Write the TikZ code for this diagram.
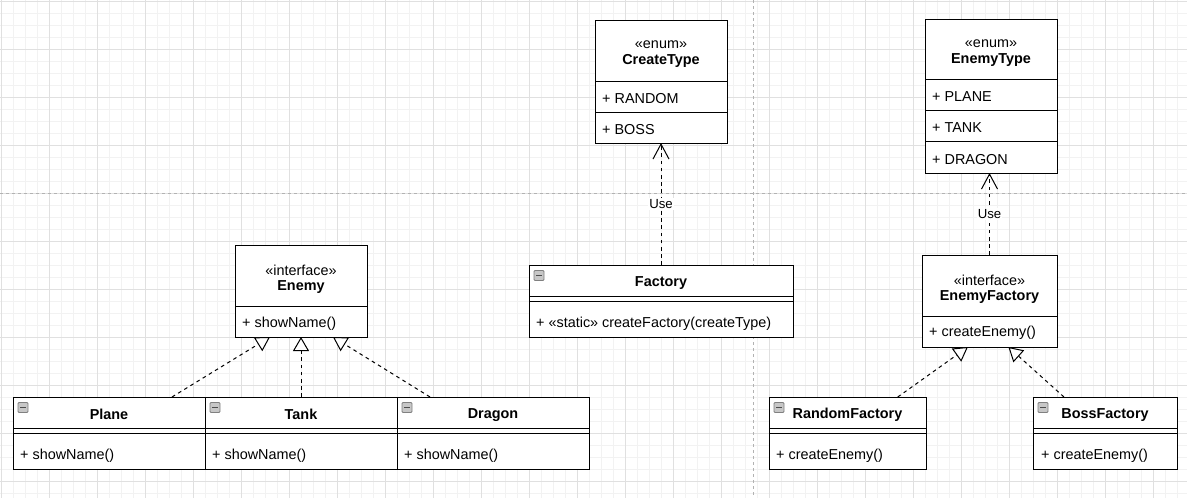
\documentclass[tikz,border=0pt]{standalone}
\usepackage{fontspec}
\setmainfont{Liberation Sans}
\usetikzlibrary{arrows.meta,calc}

\begin{document}
\begin{tikzpicture}[x=1pt,y=-1pt,
  box/.style={draw=black,line width=1pt,fill=white,anchor=north west,inner sep=0pt,outer sep=0pt},
  sep/.style={draw=black,line width=1pt},
  txt/.style={font=\fontsize{14.4}{17}\selectfont,inner sep=0pt,text=black,yshift=-1.6pt},
  ttl/.style={font=\fontsize{14.4}{17}\selectfont\bfseries,inner sep=0pt,text=black,yshift=-1.6pt},
  mem/.style={txt,anchor=west},
  minorgrid/.style={draw=black!5,line width=0.8pt},
  majorgrid/.style={draw=black!12,line width=0.8pt},
  pagebreak/.style={draw=black!30,line width=0.8pt,dash pattern=on 3pt off 3pt},
  icon/.style={draw=black!50,fill=black!22,line width=0.8pt,rounded corners=1pt},
  dep/.style={draw=black,line width=1pt,dash pattern=on 3.6pt off 3.6pt,
    -{Straight Barb[length=15pt,width=16pt,line width=1pt]}},
  real/.style={draw=black,line width=1pt,dash pattern=on 3.6pt off 3.6pt,
    -{Triangle[length=14pt,width=16pt,fill=white,line width=1pt]}},
  uselbl/.style={font=\fontsize{13.2}{15}\selectfont,fill=white,inner sep=1pt,text=black}
]
% canvas and grid
\useasboundingbox (0,0) rectangle (1187,498);
\fill[white] (0,0) rectangle (1187,498);
\foreach \g in {1.3,13.3,...,1190} \draw[minorgrid] (\g,0) -- (\g,498);
\foreach \g in {1.3,13.3,...,500} \draw[minorgrid] (0,\g) -- (1187,\g);
\foreach \g in {1.3,49.3,...,1190} \draw[majorgrid] (\g,0) -- (\g,498);
\foreach \g in {1.3,49.3,...,500} \draw[majorgrid] (0,\g) -- (1187,\g);
\draw[pagebreak] (0,193.3) -- (1187,193.3);
\draw[pagebreak] (753.3,0) -- (753.3,498);

\newcommand{\collapseicon}[1]{%
  \draw[icon] ($(#1.north west)+(5,5.5)$) rectangle ++(10,10);
  \draw[line width=1.2pt,black!70] ($(#1.north west)+(7.3,10.5)$) -- ++(5.4,0);}

% enum CreateType
\node[box,minimum width=132pt,minimum height=123pt] (createtype) at (595,20) {};
\draw[sep] (595,81) -- (727,81);
\draw[sep] (595,112) -- (727,112);
\node[txt] (ct-st) at (661,43) {«enum»};
\node[ttl] (ct-name) at (661,59.5) {CreateType};
\node[mem] (ct-a) at (602,97) {+ RANDOM};
\node[mem] (ct-b) at (602,128) {+ BOSS};

% enum EnemyType
\node[box,minimum width=132pt,minimum height=154pt] (enemytype) at (925,19) {};
\draw[sep] (925,79) -- (1057,79);
\draw[sep] (925,110) -- (1057,110);
\draw[sep] (925,141) -- (1057,141);
\node[txt] (et-st) at (991,42) {«enum»};
\node[ttl] (et-name) at (991,58.5) {EnemyType};
\node[mem] (et-a) at (932,95) {+ PLANE};
\node[mem] (et-b) at (932,126) {+ TANK};
\node[mem] (et-c) at (932,157.5) {+ DRAGON};

% interface Enemy
\node[box,minimum width=132pt,minimum height=92pt] (enemy) at (235,245) {};
\draw[sep] (235,306) -- (367,306);
\node[txt] (en-st) at (301,268.5) {«interface»};
\node[ttl] (en-name) at (301,285) {Enemy};
\node[mem] (en-m) at (242,322) {+ showName()};

% class Factory
\node[box,minimum width=264pt,minimum height=72pt] (factory) at (529,265) {};
\draw[sep] (529,296) -- (793,296);
\draw[sep] (529,301) -- (793,301);
\collapseicon{factory}
\node[ttl] (fa-name) at (661,281) {Factory};
\node[mem] (fa-m) at (536,322) {+ «static» createFactory(createType)};

% interface EnemyFactory
\node[box,minimum width=135pt,minimum height=92pt] (enemyfactory) at (922,255) {};
\draw[sep] (922,316) -- (1057,316);
\node[txt] (ef-st) at (989.5,278.5) {«interface»};
\node[ttl] (ef-name) at (989.5,295) {EnemyFactory};
\node[mem] (ef-m) at (929,331.5) {+ createEnemy()};

% concrete enemies
\node[box,minimum width=192pt,minimum height=72pt] (plane) at (13,397) {};
\node[box,minimum width=192pt,minimum height=72pt] (tank) at (205,397) {};
\node[box,minimum width=192pt,minimum height=72pt] (dragon) at (397,397) {};
\foreach \b in {plane,tank,dragon} {
  \draw[sep] (\b.west |- 0,428) -- (\b.east |- 0,428);
  \draw[sep] (\b.west |- 0,433) -- (\b.east |- 0,433);
  \collapseicon{\b}
}
\node[ttl] (pl-name) at (109,413) {Plane};
\node[ttl] (ta-name) at (301,413) {Tank};
\node[ttl] (dr-name) at (493,413) {Dragon};
\node[mem] (pl-m) at (20,454) {+ showName()};
\node[mem] (ta-m) at (212,454) {+ showName()};
\node[mem] (dr-m) at (404,454) {+ showName()};

% concrete factories
\node[box,minimum width=157pt,minimum height=72pt] (randomf) at (769,397) {};
\node[box,minimum width=144pt,minimum height=72pt] (bossf) at (1033,397) {};
\foreach \b in {randomf,bossf} {
  \draw[sep] (\b.west |- 0,428) -- (\b.east |- 0,428);
  \draw[sep] (\b.west |- 0,433) -- (\b.east |- 0,433);
  \collapseicon{\b}
}
\node[ttl] (rf-name) at (847.5,413) {RandomFactory};
\node[ttl] (bf-name) at (1105,413) {BossFactory};
\node[mem] (rf-m) at (776,454) {+ createEnemy()};
\node[mem] (bf-m) at (1041,454) {+ createEnemy()};

% dependencies
\draw[dep] (factory.north) -- node[uselbl] (use1) {Use} (createtype.south);
\draw[dep] (enemyfactory.north) -- node[uselbl] (use2) {Use} (enemyfactory.north |- enemytype.south);

% realizations
\draw[real] ($(plane.north west)!0.828!(plane.north east)$) -- ($(enemy.south west)!0.265!(enemy.south east)$);
\draw[real] (tank.north) -- (enemy.south);
\draw[real] ($(dragon.north west)!0.172!(dragon.north east)$) -- ($(enemy.south west)!0.742!(enemy.south east)$);
\draw[real] ($(randomf.north west)!0.82!(randomf.north east)$) -- ($(enemyfactory.south west)!0.34!(enemyfactory.south east)$);
\draw[real] ($(bossf.north west)!0.215!(bossf.north east)$) -- ($(enemyfactory.south west)!0.64!(enemyfactory.south east)$);
\end{tikzpicture}
\end{document}
